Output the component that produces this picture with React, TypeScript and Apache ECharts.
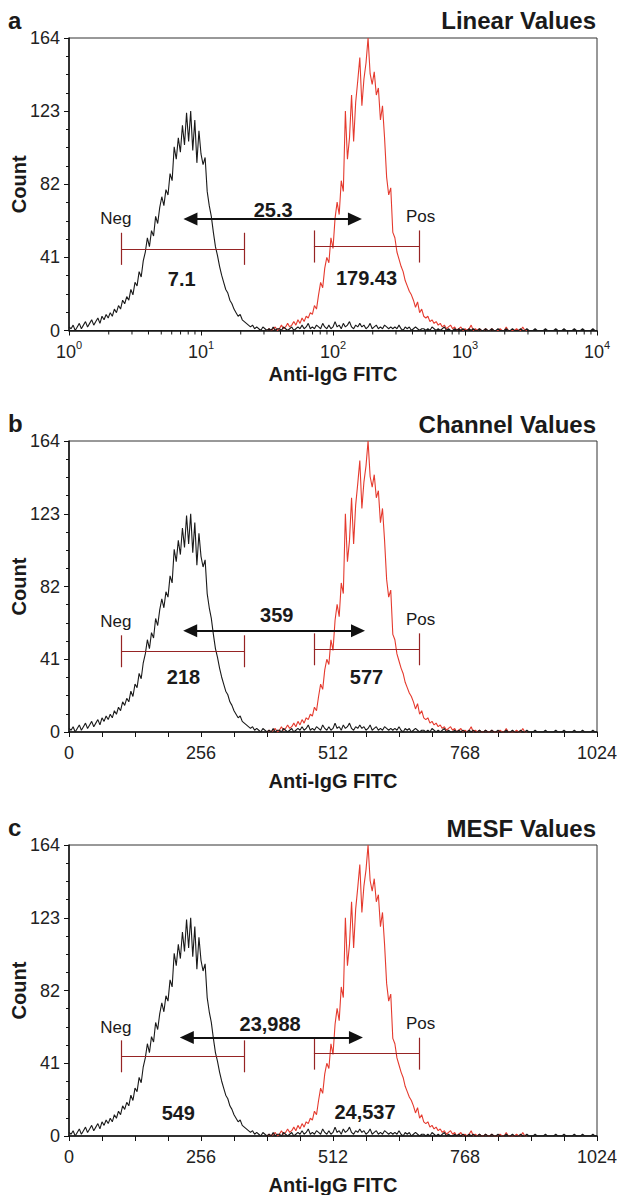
import { useEffect, useRef } from 'react';
import * as echarts from 'echarts';

// ---------------- data ----------------
const CHANNEL_STEP = 4;
const BLACK_START = 0;
const BLACK_COUNTS = [
  2, 1, 3, 0, 2, 4, 1, 3, 5, 2,
  4, 6, 3, 5, 7, 4, 8, 6, 9, 7,
  10, 8, 12, 10, 14, 12, 17, 15, 19, 17,
  23, 20, 27, 25, 33, 30, 39, 44, 52, 47,
  56, 53, 64, 60, 69, 75, 70, 79, 76, 88,
  84, 103, 96, 108, 100, 115, 104, 122, 106, 123,
  101, 118, 94, 112, 99, 93, 97, 78, 70, 64,
  55, 47, 42, 36, 31, 27, 23, 21, 17, 15,
  12, 10, 8, 9, 6, 5, 4, 3, 2, 3,
  1, 2, 1, 0, 2, 1,
  0, 1, 0, 2, 0, 1, 1, 0, 2, 1, 0, 1, 2, 0,
  1, 2, 1, 3, 1, 2, 4, 1, 2, 1, 3, 2, 1, 4, 2, 1,
  3, 1, 2, 5, 2, 3, 1, 4, 2, 3, 5, 2, 1, 3, 2, 4,
  2, 3, 1, 2, 4, 1, 2, 3, 1, 2, 1, 3, 2, 1, 2, 1,
  2, 1, 3, 1, 0, 2, 1, 2, 0, 1, 2, 1, 0, 1, 1, 0,
  1, 0, 2, 1, 0, 1, 0, 1, 2, 0, 1, 0, 0, 1, 0, 1,
  0, 1, 0, 0, 1, 0, 1, 0, 0, 1, 0, 0, 1, 0, 0, 1,
  0, 0, 1, 0, 0, 0, 1, 0, 0, 1, 0, 0, 0, 1, 0, 0,
  1, 0, 0, 0, 1, 0, 0, 0, 0, 1, 0, 0, 0, 0, 1, 0,
  0, 0, 1, 0, 0, 0, 0, 1, 0, 0, 0, 1, 0, 0, 0, 0, 1, 0, 0,
];
const RED_START = 384;
const RED_COUNTS = [
  0, 1, 0, 1, 2, 0, 1, 3, 1, 2,
  4, 2, 3, 5, 3, 6, 4, 7, 5, 8,
  7, 10, 9, 14, 12, 20, 27, 24, 35, 41,
  38, 52, 46, 63, 72, 65, 84, 78, 123, 96,
  108, 132, 106, 128, 140, 153, 126, 141, 150, 164,
  144, 138, 145, 132, 136, 118, 126, 108, 86, 76,
  80, 55, 52, 44, 40, 36, 33, 28, 25, 22,
  20, 17, 13, 16, 10, 12, 8, 7, 8, 5,
  6, 4, 5, 3, 4, 2, 3, 1, 2, 3,
  1, 2, 0, 1, 2, 0, 1, 0, 1, 3,
  0, 1, 0, 1, 0, 0, 1, 0, 0, 1,
  0, 0, 0, 1, 0, 0, 2, 0, 0, 0,
  0, 1, 0, 0, 2, 0, 0,
];

const PANEL_LETTERS = ['a', 'b', 'c'];
const PANEL_TITLES = ['Linear Values', 'Channel Values', 'MESF Values'];
const NEG_MEANS = ['7.1', '218', '549'];
const POS_MEANS = ['179.43', '577', '24,537'];
const DIFFERENCES = ['25.3', '359', '23,988'];
const GATE_NAMES = ['Neg', 'Pos'];
const COUNT_MAX = 164;
const COUNT_INTERVAL = 41;
const CHANNEL_MAX = 1024;
const CHANNEL_INTERVAL = 256;
const CHANNELS_PER_DECADE = 256;
const LOG_DECADES = 4;
const LOG_MINOR_MULTIPLIERS = [2, 3, 4, 5, 6, 7, 8, 9];
const X_AXIS_NAME = 'Anti-IgG FITC';
const Y_AXIS_NAME = 'Count';

// ---------------- layout / style ----------------
const FONT = '"Liberation Sans", Arial, Helvetica, sans-serif';
const INK = '#1a1a1a';
const RED = '#e53a2e';
const GATE = '#962424';
const GRIDS = [
  { left: 69, top: 38, width: 528, height: 292.5 },
  { left: 69, top: 441, width: 528, height: 291 },
  { left: 69, top: 845, width: 528, height: 291 },
];
const TITLE_Y = [20, 424, 828];
const LETTER_Y = [20, 423, 827];
const X_NAME_GAP = [33, 39, 39];
const NEG_GATE_X = [102, 340];
const POS_GATE_X = [475, 679];
const GATE_HALF = 9;
const ANNOT = [
  { gateY: [45.8, 47.1], arrowY: 62.5, tips: [222, 568], diff: [396, 67.7], negMean: [218.6, 29], posMean: [577, 29.4], negText: [91, 63], posText: [682, 64] },
  { gateY: [45.5, 46.6], arrowY: 57.1, tips: [221.5, 574], diff: [403, 65.8], negMean: [222, 30.8], posMean: [577, 30.8], negText: [91, 62], posText: [682, 63.3] },
  { gateY: [44.9, 46.4], arrowY: 55.5, tips: [215, 570], diff: [390, 63.3], negMean: [212, 13], posMean: [574, 13.5], negText: [91, 61.4], posText: [682, 63.3] },
];
const ARROW_HALF_CH = 13.5;

function buildOption() {
  const tx = (p: number) => (ch: number) => (p === 0 ? ch / CHANNELS_PER_DECADE : ch);

  const minorLog: number[][] = [];
  for (let d = 0; d < LOG_DECADES; d++) {
    for (const m of LOG_MINOR_MULTIPLIERS) minorLog.push([d + Math.log10(m), 0]);
  }

  const axisLine = { show: true, onZero: false, lineStyle: { color: '#111', width: 1.5 } };

  const xAxis = [0, 1, 2].map((p) => {
    const common: any = {
      gridIndex: p,
      type: 'value',
      name: X_AXIS_NAME,
      nameLocation: 'middle',
      nameGap: X_NAME_GAP[p],
      nameMoveOverlap: false,
      nameTextStyle: { fontSize: 20, fontWeight: 'bold', color: INK, fontFamily: FONT },
      axisLine,
      axisTick: { show: true, length: 5, lineStyle: { color: '#111', width: 1 } },
      splitLine: { show: false },
    };
    if (p === 0) {
      return {
        ...common,
        min: 0,
        max: LOG_DECADES,
        interval: 1,
        axisLabel: {
          margin: 9,
          formatter: (v: number) => `{b|10}{s|${v}}`,
          rich: {
            b: { fontSize: 18, lineHeight: 24, color: '#222', fontFamily: FONT },
            s: { fontSize: 11, lineHeight: 11, verticalAlign: 'top', color: '#222', fontFamily: FONT },
          },
        },
      };
    }
    return {
      ...common,
      min: 0,
      max: CHANNEL_MAX,
      interval: CHANNEL_INTERVAL,
      minorTick: { show: true, splitNumber: 4, length: 5, lineStyle: { color: '#111', width: 1 } },
      axisLabel: { margin: 12, fontSize: 18, color: '#222', fontFamily: FONT, formatter: (v: number) => String(v) },
    };
  });

  const yAxis = [0, 1, 2].map((p) => ({
    gridIndex: p,
    type: 'value',
    min: 0,
    max: COUNT_MAX,
    interval: COUNT_INTERVAL,
    name: Y_AXIS_NAME,
    nameLocation: 'middle',
    nameRotate: 90,
    nameGap: 40,
    nameMoveOverlap: false,
    nameTextStyle: { fontSize: 20, fontWeight: 'bold', color: INK, fontFamily: FONT },
    axisLine,
    axisTick: { show: true, length: 5, lineStyle: { color: '#111', width: 1 } },
    minorTick: { show: true, splitNumber: 4, length: 3, lineStyle: { color: '#111', width: 1 } },
    axisLabel: { margin: 9, fontSize: 18, color: '#222', fontFamily: FONT, formatter: (v: number) => String(v) },
    splitLine: { show: false },
  }));

  const series: any[] = [];
  [0, 1, 2].forEach((p) => {
    const X = tx(p);
    const a = ANNOT[p];
    const redData = RED_COUNTS.map((v, i) => [X(RED_START + i * CHANNEL_STEP), v]);
    const blackData = BLACK_COUNTS.map((v, i) => [X(BLACK_START + i * CHANNEL_STEP), v]);

    const gateStyle = { color: GATE, width: 1.2, type: 'solid' };
    const gate = (xs: number[], y: number) => [
      [{ coord: [X(xs[0]), y], lineStyle: gateStyle }, { coord: [X(xs[1]), y], lineStyle: gateStyle }],
      [{ coord: [X(xs[0]), y - GATE_HALF], lineStyle: gateStyle }, { coord: [X(xs[0]), y + GATE_HALF], lineStyle: gateStyle }],
      [{ coord: [X(xs[1]), y - GATE_HALF], lineStyle: gateStyle }, { coord: [X(xs[1]), y + GATE_HALF], lineStyle: gateStyle }],
    ];
    const arrowStyle = { color: '#111', width: 2, type: 'solid' };
    const arrow = [
      { coord: [X(a.tips[0] + ARROW_HALF_CH), a.arrowY], symbol: 'triangle', symbolSize: [13, 14], lineStyle: arrowStyle, itemStyle: { color: '#111' } },
      { coord: [X(a.tips[1] - ARROW_HALF_CH), a.arrowY], symbol: 'triangle', symbolSize: [13, 14], lineStyle: arrowStyle, itemStyle: { color: '#111' } },
    ];

    const bold = { fontSize: 20, fontWeight: 'bold', color: INK, fontFamily: FONT };
    const reg = { fontSize: 17, fontWeight: 'normal', color: INK, fontFamily: FONT };
    const pt = (name: string, c: number[], style: any) => ({
      name,
      coord: [X(c[0]), c[1]],
      symbol: 'circle',
      symbolSize: 1,
      itemStyle: { color: 'rgba(0,0,0,0)' },
      label: { show: true, position: 'inside', formatter: '{b}', ...style },
    });

    series.push({
      type: 'line',
      name: 'pos' + p,
      xAxisIndex: p,
      yAxisIndex: p,
      data: redData,
      symbol: 'none',
      showSymbol: false,
      lineStyle: { color: RED, width: 1.1 },
      silent: true,
    });
    series.push({
      type: 'line',
      name: 'neg' + p,
      xAxisIndex: p,
      yAxisIndex: p,
      data: blackData,
      symbol: 'none',
      showSymbol: false,
      lineStyle: { color: INK, width: 1.1 },
      silent: true,
      markLine: {
        silent: true,
        symbol: ['none', 'none'],
        label: { show: false },
        lineStyle: gateStyle,
        emphasis: { disabled: true },
        data: [...gate(NEG_GATE_X, a.gateY[0]), ...gate(POS_GATE_X, a.gateY[1]), arrow],
      },
      markPoint: {
        silent: true,
        emphasis: { disabled: true },
        data: [
          pt(DIFFERENCES[p], a.diff, bold),
          pt(NEG_MEANS[p], a.negMean, bold),
          pt(POS_MEANS[p], a.posMean, bold),
          pt(GATE_NAMES[0], a.negText, reg),
          pt(GATE_NAMES[1], a.posText, reg),
        ],
      },
    });
  });

  series.push({
    type: 'custom',
    xAxisIndex: 0,
    yAxisIndex: 0,
    silent: true,
    clip: false,
    data: minorLog,
    encode: { x: 0, y: 1 },
    renderItem: (_params: any, api: any) => {
      const c = api.coord([api.value(0), 0]);
      return {
        type: 'line',
        shape: { x1: c[0], y1: c[1], x2: c[0], y2: c[1] + 4 },
        style: { stroke: '#111', lineWidth: 1 },
      };
    },
  });

  const graphic: any[] = [];
  [0, 1, 2].forEach((p) => {
    graphic.push({
      type: 'text',
      x: 596,
      y: TITLE_Y[p],
      style: { text: PANEL_TITLES[p], fontSize: 24, fontWeight: 'bold', fontFamily: FONT, fill: INK, align: 'right', verticalAlign: 'middle' },
    });
    graphic.push({
      type: 'text',
      x: 8,
      y: LETTER_Y[p],
      style: { text: PANEL_LETTERS[p], fontSize: 24, fontWeight: 'bold', fontFamily: FONT, fill: INK, align: 'left', verticalAlign: 'middle' },
    });
  });

  return {
    animation: false,
    backgroundColor: '#ffffff',
    textStyle: { fontFamily: FONT },
    grid: GRIDS.map((g) => ({
      ...g,
      containLabel: false,
      outerBoundsMode: 'none',
      show: true,
      borderColor: '#333',
      borderWidth: 1,
      backgroundColor: 'transparent',
    })),
    xAxis,
    yAxis,
    series,
    graphic,
  };
}

export default function App() {
  const ref = useRef<HTMLDivElement>(null);
  useEffect(() => {
    if (!ref.current) return;
    const chart = echarts.init(ref.current, undefined, { renderer: 'svg' });
    chart.setOption(buildOption() as any);
    return () => chart.dispose();
  }, []);
  return (
    <div
      ref={ref}
      style={{ position: 'absolute', left: 0, top: 0, width: 617, height: 1195, background: '#fff' }}
    />
  );
}
